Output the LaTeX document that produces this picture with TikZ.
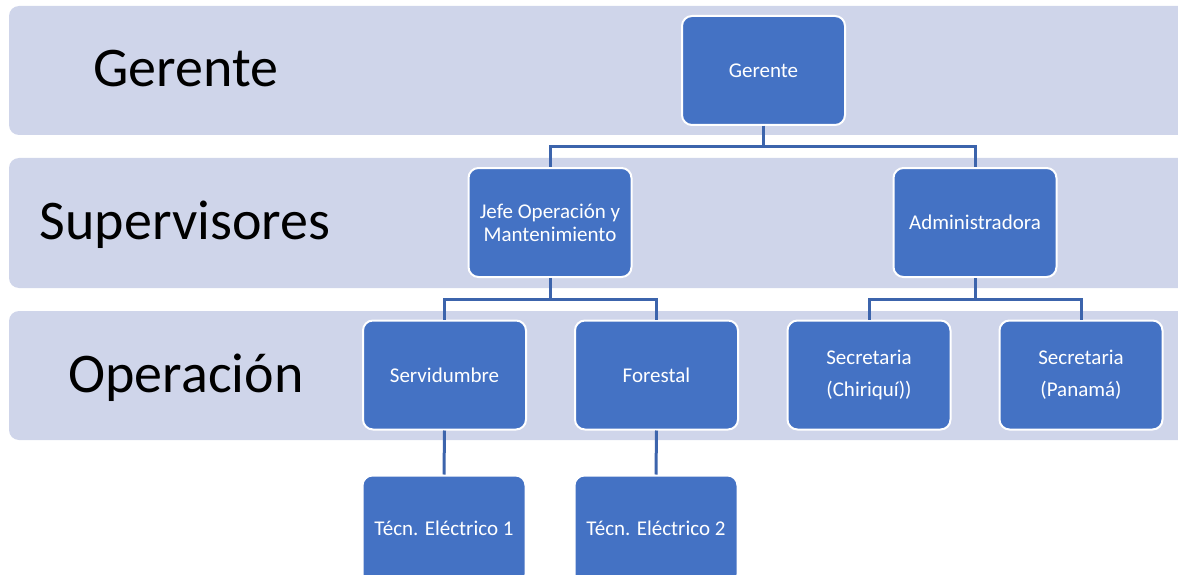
\documentclass[tikz,border=0pt]{standalone}
\usepackage{fontspec}
\setmainfont{Carlito}
\definecolor{bandcol}{HTML}{CFD5EA}
\definecolor{boxblue}{HTML}{4472C4}
\definecolor{conn}{HTML}{3C64AC}
\begin{document}
\begin{tikzpicture}[x=1pt,y=-1pt,
  bandbox/.style={fill=bandcol, rounded corners=10pt},
  unit/.style={draw=white, line width=2pt, fill=boxblue, rounded corners=10pt,
    minimum width=163pt, minimum height=109pt, text=white,
    font=\fontsize{21}{23}\selectfont, align=center, inner sep=0pt},
  lbl/.style={font=\fontsize{56}{60}\selectfont, text=black, anchor=base, inner sep=0pt},
  link/.style={draw=conn, line width=3pt}]
\useasboundingbox (0,0) rectangle (1178,575);
\clip (0,0) rectangle (1178,575);
% bands
\fill[bandbox] (9,6) rectangle (1195,135);
\fill[bandbox] (9,158) rectangle (1195,288);
\fill[bandbox] (9,311) rectangle (1195,440);
% band labels
\node[lbl] (lg) at (186,87) {Gerente};
\node[lbl] (ls) at (185,239) {Supervisores};
\node[lbl] (lo) at (186,392) {Operación};
% units
\node[unit] (ger) at (763.5,70.5) {Gerente};
\node[unit] (jefe) at (550,222.5) {Jefe Operación y\\Mantenimiento};
\node[unit] (adm) at (975,222.5) {Administradora};
\node[unit] (serv) at (444.5,375) {Servidumbre};
\node[unit] (fore) at (656.5,375) {Forestal};
\node[unit, font=\fontsize{21}{32}\selectfont] (sec1) at (869,375) {Secretaria\\(Chiriquí))};
\node[unit, font=\fontsize{21}{32}\selectfont] (sec2) at (1081,375) {Secretaria\\(Panamá)};
\node[unit] (tec1) at (444,530) {\raisebox{3pt}{Técn. Eléctrico 1}};
\node[unit] (tec2) at (656,530) {\raisebox{3pt}{Técn. Eléctrico 2}};
% connectors
\draw[link] (ger.south) -- ++(0,21) -| (jefe.north);
\draw[link] (ger.south) -- ++(0,21) -| (adm.north);
\draw[link] (jefe.south) -- ++(0,21) -| (serv.north);
\draw[link] (jefe.south) -- ++(0,21) -| (fore.north);
\draw[link] (adm.south) -- ++(0,21) -| (sec1.north);
\draw[link] (adm.south) -- ++(0,21) -| (sec2.north);
\draw[link] (serv.south) -- (tec1.north);
\draw[link] (fore.south) -- (tec2.north);
\end{tikzpicture}
\end{document}
